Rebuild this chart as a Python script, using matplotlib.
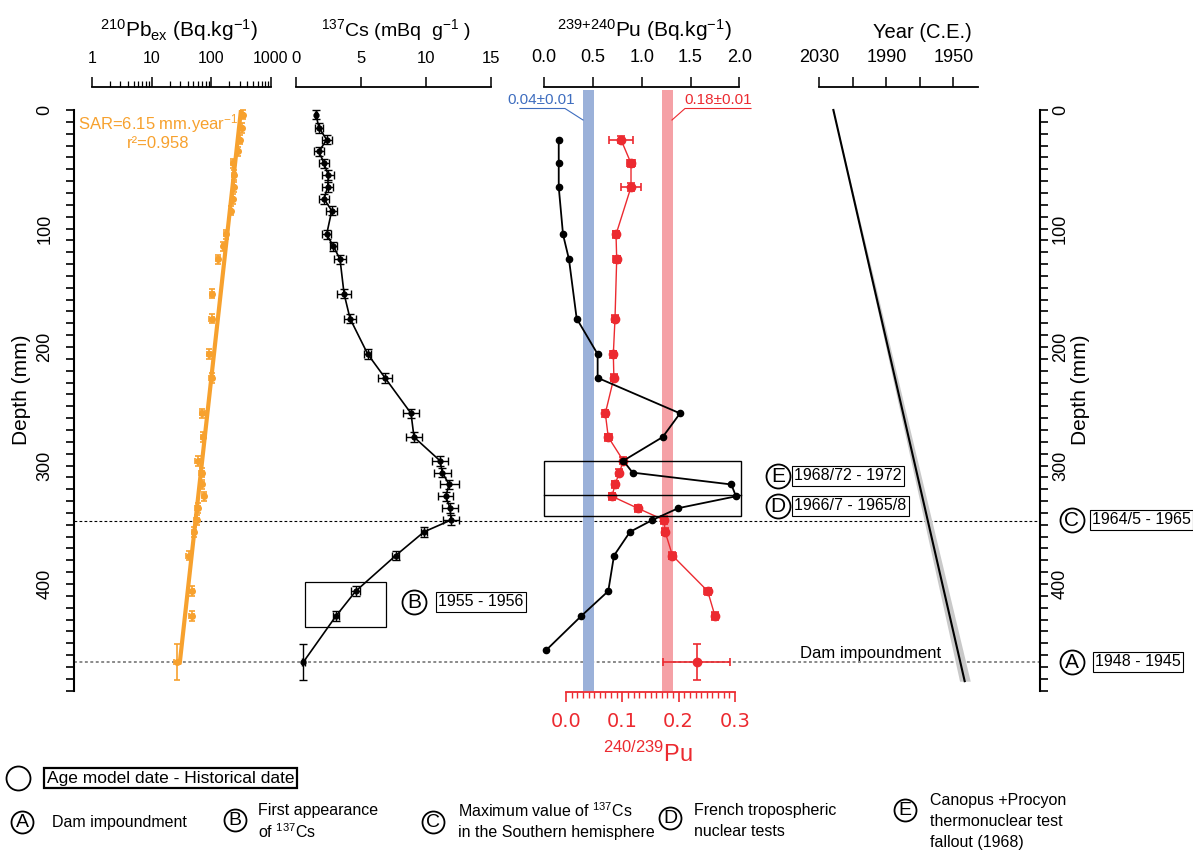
import numpy as np
import matplotlib
matplotlib.use('Agg')
import matplotlib.pyplot as plt
from matplotlib.patches import Rectangle
from matplotlib.ticker import MultipleLocator

plt.rcParams['font.family'] = ['Liberation Sans', 'DejaVu Sans']
plt.rcParams['mathtext.fontset'] = 'custom'
plt.rcParams['mathtext.rm'] = 'Liberation Sans'
plt.rcParams['mathtext.default'] = 'regular'

# --- core data -------------------------------------------------------------
# sample depths (mm) shared by 210Pb and 137Cs
depth = [4, 15, 25, 35, 45, 55, 65, 75, 85, 105, 115, 126, 155, 176, 206, 226,
         256, 276, 296, 306, 316, 326, 336, 346, 356, 376, 406, 427, 466]
depth_err = [4, 4, 4, 4, 4, 4, 4, 4, 4, 4, 4, 4, 4, 4, 4, 4,
             4, 4, 4, 4, 4, 4, 4, 4, 4, 4, 4, 4, 15]

# 210Pb excess (Bq/kg)
pb_act = [335, 322, 302, 277, 228, 240, 240, 228, 211, 176, 159, 131, 104, 101, 92, 101,
          71, 73, 59, 69, 69, 75, 59, 57, 52, 42, 47, 47, 27]
pb_err = [20, 18, 18, 16, 14, 15, 14, 13, 12, 11, 10, 9, 8, 8, 7, 8,
          6, 6, 5, 6, 6, 6, 5, 5, 4, 4, 4, 4, 3]

# 137Cs (mBq/g)
cs_act = [1.56, 1.79, 2.38, 1.79, 2.18, 2.51, 2.46, 2.18, 2.77, 2.38, 2.9, 3.41, 3.72, 4.18,
          5.54, 6.87, 8.87, 9.1, 11.1, 11.28, 11.8, 11.54, 11.87, 11.95, 9.87, 7.69, 4.62, 3.1, 0.58]
cs_err = [0.1, 0.3, 0.38, 0.42, 0.35, 0.45, 0.42, 0.4, 0.41, 0.33, 0.3, 0.45, 0.51, 0.45,
          0.26, 0.51, 0.62, 0.6, 0.59, 0.63, 0.73, 0.59, 0.6, 0.62, 0.26, 0.26, 0.35, 0.26, 0.1]

# 239+240Pu activity (Bq/kg)
pu_depth = [25, 45, 65, 105, 126, 176, 206, 226, 256, 276, 296, 306, 316, 326, 336, 346,
            356, 376, 406, 427, 456]
pu_act = [0.148, 0.148, 0.148, 0.192, 0.253, 0.332, 0.547, 0.547, 1.392, 1.214, 0.81, 0.906,
          1.918, 1.966, 1.374, 1.108, 0.879, 0.715, 0.656, 0.379, 0.017]

# 240Pu/239Pu atom ratio
ratio_depth = [25, 45, 65, 105, 126, 176, 206, 226, 256, 276, 296, 306, 316, 326, 336, 346,
               356, 376, 406, 427, 466]
ratio_depth_err = [3, 3, 3, 3, 3, 3, 3, 3, 3, 3, 3, 3, 3, 3, 3, 3, 3, 3, 3, 3, 15]
pu_ratio = [0.0976, 0.1154, 0.1154, 0.0888, 0.09, 0.087, 0.084, 0.085, 0.0698, 0.075, 0.1018,
            0.0947, 0.087, 0.0817, 0.127, 0.174, 0.176, 0.189, 0.2515, 0.2645, 0.232]
pu_ratio_err = [0.021, 0.007, 0.017, 0.005, 0.006, 0.006, 0.005, 0.005, 0.005, 0.006, 0.005,
                0.005, 0.005, 0.005, 0.005, 0.005, 0.005, 0.006, 0.006, 0.006, 0.06]

global_ratio = (0.04, 0.01)
french_ratio = (0.18, 0.01)

# CF:CS age model
sar = 6.15
sar_err = 0.25
r2 = 0.958
pb_surface = 314.0
lambda_pb = np.log(2) / 22.26
core_year = 2021.6
max_depth = 482

# dated horizons (mm)
c_depth = 347
dam_depth = 466

orange = '#F7A12E'
red = '#EC2A30'
blue_band = '#9BB1D9'
red_band = '#F5A1A6'
blue_txt = '#3E6DBF'

W, H = 1193, 851
fig = plt.figure(figsize=(W / 100, H / 100), dpi=100)


def add_px_axes(x0, x1, y0=110, y1=690.65):
    ax = fig.add_axes([x0 / W, 1 - y1 / H, (x1 - x0) / W, (y1 - y0) / H])
    ax.set_ylim(490, 0)
    return ax


def hide_spines(ax, keep=()):
    for name, sp in ax.spines.items():
        sp.set_visible(name in keep)


def top_scale(ax, labelsize=11):
    hide_spines(ax, keep=('top',))
    ax.patch.set_visible(False)
    ax.spines['top'].set_position(('outward', 16.5))
    ax.spines['top'].set_linewidth(1.3)
    ax.xaxis.set_ticks_position('top')
    ax.tick_params(axis='x', which='major', direction='out', length=7.2, width=1.1,
                   pad=8, labelsize=labelsize)
    ax.tick_params(axis='x', which='minor', direction='out', length=4.5, width=0.9)
    ax.tick_params(axis='y', which='both', left=False, right=False, labelleft=False)


# depth frame with both depth axes and dotted horizons
frame = add_px_axes(74, 1039.5)
frame.set_xlim(0, 1)
hide_spines(frame, keep=('left',))
frame.spines['left'].set_linewidth(1.5)
frame.tick_params(axis='x', bottom=False, labelbottom=False)
frame.yaxis.set_major_locator(MultipleLocator(100))
frame.yaxis.set_minor_locator(MultipleLocator(10))
frame.tick_params(axis='y', which='both', direction='out', length=6, width=1.2)
frame.tick_params(axis='y', which='major', labelsize=13, labelrotation=90, pad=9)
plt.setp(frame.get_yticklabels(), va='center')
frame.axhline(c_depth, color='k', lw=0.8, ls=(0, (2.5, 2)))
frame.axhline(dam_depth, color='#8a8a8a', lw=1.4, ls=(0, (1.5, 1.3)))

rt = frame.twinx()
rt.set_ylim(490, 0)
hide_spines(rt, keep=('right',))
rt.spines['right'].set_linewidth(1.5)
rt.yaxis.set_major_locator(MultipleLocator(100))
rt.yaxis.set_minor_locator(MultipleLocator(10))
rt.tick_params(axis='y', which='both', direction='out', length=6, width=1.2)
rt.tick_params(axis='y', which='major', labelsize=13, labelrotation=90, pad=3)
plt.setp(rt.get_yticklabels(), va='center')

# 210Pb panel
ax_pb = add_px_axes(92, 271)
ax_pb.set_xscale('log')
ax_pb.set_xlim(1, 1000)
ax_pb.set_ylim(490, 0)
top_scale(ax_pb, labelsize=11.5)
ax_pb.set_xticks([1, 10, 100, 1000], ['1', '10', '100', '1000'])
zfit = np.linspace(0, dam_depth, 100)
ax_pb.plot(pb_surface * np.exp(-lambda_pb * zfit / sar), zfit, color=orange, lw=3, zorder=2)
ax_pb.errorbar(pb_act, depth, xerr=pb_err, yerr=depth_err, fmt='o', ms=4, color=orange,
               elinewidth=1.2, capsize=2, capthick=1.2, zorder=3, clip_on=False)

# 137Cs panel
ax_cs = add_px_axes(295.7, 490.7)
ax_cs.set_xlim(0, 15)
top_scale(ax_cs, labelsize=12)
ax_cs.set_xticks([0, 5, 10, 15])
ax_cs.errorbar(cs_act, depth, xerr=cs_err, yerr=depth_err, fmt='-o', ms=3.5, color='k',
               lw=1.2, elinewidth=1, capsize=3, capthick=1, clip_on=False)
ax_cs.add_patch(Rectangle((0.72, 398), 6.23, 38, fill=False, ec='k', lw=0.9))

# 240/239 ratio panel (bottom scale)
ax_r = add_px_axes(566, 735)
ax_r.set_xlim(0, 0.3)
hide_spines(ax_r, keep=('bottom',))
ax_r.patch.set_visible(False)
ax_r.spines['bottom'].set_color(red)
ax_r.spines['bottom'].set_linewidth(1.3)
ax_r.spines['bottom'].set_position(('outward', 1))
ax_r.set_xticks([0.0, 0.1, 0.2, 0.3], ['0.0', '0.1', '0.2', '0.3'])
ax_r.xaxis.set_minor_locator(MultipleLocator(0.01))
ax_r.tick_params(axis='x', which='major', direction='out', length=7.2, width=1.2,
                 color=red, labelcolor=red, labelsize=14, pad=7)
ax_r.tick_params(axis='x', which='minor', direction='out', length=4.5, width=1, color=red)
plt.setp(ax_r.get_xticklabels(), family='DejaVu Sans')
ax_r.tick_params(axis='y', which='both', left=False, labelleft=False)
for val, err, col in [(global_ratio[0], global_ratio[1], blue_band),
                      (french_ratio[0], french_ratio[1], red_band)]:
    ax_r.axvspan(val - err, val + err, ymin=0, ymax=1.035, color=col, lw=0,
                 zorder=0, clip_on=False)
ax_r.errorbar(pu_ratio[:-1], ratio_depth[:-1], xerr=pu_ratio_err[:-1], yerr=ratio_depth_err[:-1],
              fmt='-o', ms=6, color=red, lw=1, elinewidth=1.2, capsize=3, capthick=1.2, zorder=3)
ax_r.errorbar(pu_ratio[-1:], ratio_depth[-1:], xerr=pu_ratio_err[-1:], yerr=ratio_depth_err[-1:],
              fmt='o', ms=6, color=red, elinewidth=1.2, capsize=3, capthick=1.2, zorder=3)

# 239+240Pu panel (top scale)
ax_pu = add_px_axes(544.3, 739.3)
ax_pu.set_xlim(0, 2)
top_scale(ax_pu, labelsize=13)
ax_pu.set_xticks([0, 0.5, 1.0, 1.5, 2.0], ['0.0', '0.5', '1.0', '1.5', '2.0'])
ax_pu.plot(pu_act, pu_depth, '-o', color='k', ms=4.5, lw=1.3, clip_on=False, zorder=4)
ax_pu.add_patch(Rectangle((0, 296), 2.015, 46.3, fill=False, ec='k', lw=1, clip_on=False))
ax_pu.plot([0, 2.015], [325, 325], color='k', lw=1, clip_on=False)

# age model panel
ax_yr = add_px_axes(819.3, 978.3)
ax_yr.set_xlim(2030, 1935.1)
top_scale(ax_yr, labelsize=13)
ax_yr.set_xticks([2030, 2010, 1990, 1970, 1950], ['2030', '', '1990', '', '1950'])
zage = np.linspace(0, max_depth, 100)
ax_yr.fill_betweenx(zage, core_year - zage / (sar - sar_err), core_year - zage / (sar + sar_err),
                    color='#c9c9c9', lw=0, clip_on=False)
ax_yr.plot(core_year - zage / sar, zage, color='k', lw=1.5, clip_on=False)

# labels and annotations in pixel space
ov = fig.add_axes([0, 0, 1, 1])
ov.set_xlim(0, W)
ov.set_ylim(H, 0)
ov.axis('off')

ov.text(179, 30, r'$^{210}$Pb$_{ex}$ (Bq.kg$^{-1}$)', ha='center', va='center', fontsize=15)
ov.text(396, 30, r'$^{137}$Cs (mBq  g$^{-1}$ )', ha='center', va='center', fontsize=14)
ov.text(644, 30, r'$^{239{+}240}$Pu (Bq.kg$^{-1}$)', ha='center', va='center', fontsize=15)
ov.text(922, 33, 'Year (C.E.)', ha='center', va='center', fontsize=14.5)
ov.text(22, 390, 'Depth (mm)', ha='center', va='center', rotation=90, fontsize=15)
ov.text(1080, 390, 'Depth (mm)', ha='center', va='center', rotation=90, fontsize=15)

ov.text(158, 124, f'SAR={sar} mm.year$^{{-1}}$', ha='center', va='center', fontsize=12, color=orange)
ov.text(158, 144, f'r\u00b2={r2}', ha='center', va='center', fontsize=12, color=orange)

ov.text(541, 100, f'{global_ratio[0]:.2f}\u00b1{global_ratio[1]:.2f}', ha='center', va='center',
        fontsize=11, color=blue_txt)
ov.plot([520, 565, 583], [108.5, 108.5, 120], color=blue_txt, lw=0.8)
ov.text(718, 100, f'{french_ratio[0]:.2f}\u00b1{french_ratio[1]:.2f}', ha='center', va='center',
        fontsize=11, color=red)
ov.plot([751, 685, 672], [108.5, 108.5, 120], color=red, lw=0.8)

ov.text(800, 661, 'Dam impoundment', ha='left', va='bottom', fontsize=12)

ov.text(648, 754, r'$^{240/239}$Pu', ha='center', va='center', fontsize=17, color=red)


def circled(x, y, letter, d=24, fs=15):
    ov.plot(x, y, 'o', ms=d * 0.72, mfc='white', mec='k', mew=1.3)
    ov.text(x, y + 0.5, letter, ha='center', va='center', fontsize=fs)


def boxed(x, y, label, fs=11.5, lw=0.8):
    ov.text(x, y, label, ha='left', va='center', fontsize=fs,
            bbox=dict(boxstyle='square,pad=0.15', fc='white', ec='k', lw=lw))


events = [
    ('B', 414, 601.7, 438, '1955 - 1956'),
    ('E', 778, 475.7, 794, '1968/72 - 1972'),
    ('D', 778, 505.7, 794, '1966/7 - 1965/8'),
    ('C', 1071.7, 520, 1092, '1964/5 - 1965'),
    ('A', 1071.7, 661.7, 1095, '1948 - 1945'),
]
for letter, cx, cy, bx, label in events:
    circled(cx, cy, letter)
    boxed(bx, cy, label)

# key
circled(18, 778, '', d=24)
boxed(47, 778, 'Age model date - Historical date', fs=12.5, lw=1.6)
key = [
    ('A', 22, 822, 52, ['Dam impoundment'], [823]),
    ('B', 235, 820, 258, ['First appearance', 'of $^{137}$Cs'], [811, 832]),
    ('C', 433, 822, 458, ['Maximum value of $^{137}$Cs', 'in the Southern hemisphere'], [811, 832]),
    ('D', 670, 818, 694, ['French tropospheric', 'nuclear tests'], [811, 832]),
    ('E', 905, 810, 930, ['Canopus +Procyon', 'thermonuclear test', 'fallout (1968)'], [800, 821, 842]),
]
for letter, cx, cy, tx, lines, ys in key:
    circled(cx, cy, letter, d=22, fs=14)
    for line, ty in zip(lines, ys):
        ov.text(tx, ty, line, ha='left', va='center', fontsize=11.5)

fig.savefig('out.png', dpi=100)
